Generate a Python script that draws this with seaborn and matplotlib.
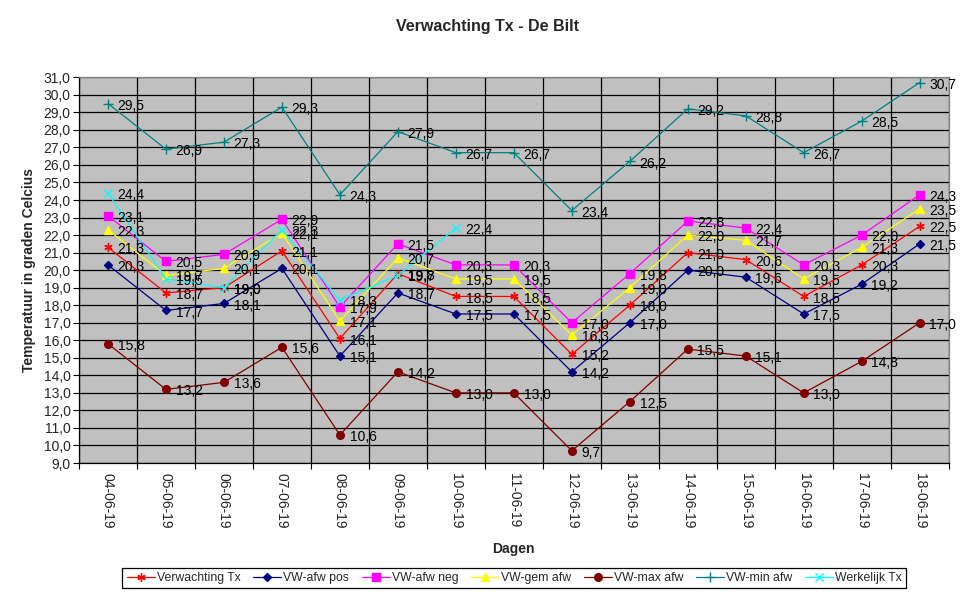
import numpy as np
import pandas as pd
import matplotlib
matplotlib.use("Agg")
import matplotlib.pyplot as plt
import seaborn as sns

DATES = ["04-06-19", "05-06-19", "06-06-19", "07-06-19", "08-06-19",
         "09-06-19", "10-06-19", "11-06-19", "12-06-19", "13-06-19",
         "14-06-19", "15-06-19", "16-06-19", "17-06-19", "18-06-19"]

VERWACHTING = [21.3, 18.7, 19.0, 21.1, 16.1, 19.8, 18.5, 18.5, 15.2, 18.0, 21.0, 20.6, 18.5, 20.3, 22.5]
AFW_POS = [20.3, 17.7, 18.1, 20.1, 15.1, 18.7, 17.5, 17.5, 14.2, 17.0, 20.0, 19.6, 17.5, 19.2, 21.5]
AFW_NEG = [23.1, 20.5, 20.9, 22.9, 17.9, 21.5, 20.3, 20.3, 17.0, 19.8, 22.8, 22.4, 20.3, 22.0, 24.3]
GEM_AFW = [22.3, 19.7, 20.1, 22.1, 17.1, 20.7, 19.5, 19.5, 16.3, 19.0, 22.0, 21.7, 19.5, 21.3, 23.5]
MAX_AFW = [15.8, 13.2, 13.6, 15.6, 10.6, 14.2, 13.0, 13.0, 9.7, 12.5, 15.5, 15.1, 13.0, 14.8, 17.0]
MIN_AFW = [29.5, 26.9, 27.3, 29.3, 24.3, 27.9, 26.7, 26.7, 23.4, 26.2, 29.2, 28.8, 26.7, 28.5, 30.7]
WERKELIJK = [24.4, 19.5, 19.0, 22.3, 18.3, 19.7, 22.4]

SERIES = [
    ("Verwachting Tx", VERWACHTING, "#FF0000", (6, 2, 0), 6),
    ("VW-afw pos", AFW_POS, "#000080", "D", 4),
    ("VW-afw neg", AFW_NEG, "#FF00FF", "s", 5.5),
    ("VW-gem afw", GEM_AFW, "#FFFF00", "^", 6),
    ("VW-max afw", MAX_AFW, "#800000", "o", 5.5),
    ("VW-min afw", MIN_AFW, "#008080", "+", 7),
    ("Werkelijk Tx", WERKELIJK, "#00FFFF", "x", 6),
]


def fmt(v):
    return f"{v:.1f}".replace(".", ",")


sns.set_style("white")
plt.rcParams["font.family"] = ["Liberation Sans", "DejaVu Sans"]

fig = plt.figure(figsize=(9.75, 5.99), dpi=100)
ax = fig.add_axes([0.081, 0.227, 0.892, 0.644])
ax.set_facecolor("#C0C0C0")

for name, values, color, marker, ms in SERIES:
    df = pd.DataFrame({"x": np.arange(len(values)), "y": values})
    sns.lineplot(data=df, x="x", y="y", ax=ax, color=color, marker=marker,
                 markersize=ms, markeredgecolor=color, markerfacecolor=color,
                 markeredgewidth=1.0, linewidth=0.9, label=name, zorder=3)
    for xi, yi in zip(df["x"], df["y"]):
        ax.annotate(fmt(yi), (xi, yi), xytext=(7, -1.5), textcoords="offset points",
                    ha="left", va="center", fontsize=10, color="black", zorder=4)

n = len(DATES)
ax.set_xlim(-0.5, n - 0.5)
ax.set_ylim(9, 31)
ax.set_yticks(np.arange(9, 32, 1))
ax.set_yticklabels([fmt(v) for v in np.arange(9, 32, 1)], fontsize=10)
ax.set_xticks(np.arange(n))
ax.set_xticklabels(DATES, rotation=-90, fontsize=10)
ax.set_xticks(np.arange(-0.5, n, 1), minor=True)
ax.tick_params(axis="x", which="major", length=0, pad=7)
ax.tick_params(axis="x", which="minor", length=4, width=0.8, direction="out", color="black", bottom=True)
ax.tick_params(axis="y", length=4, width=0.8, direction="out", color="black", left=True, pad=2)

ax.grid(False)
ax.grid(True, axis="y", which="major", color="black", linewidth=0.9)
ax.grid(True, axis="x", which="minor", color="black", linewidth=0.9)
ax.set_axisbelow(True)
for side in ["top", "right"]:
    ax.spines[side].set_color("#808080")
for side in ["left", "bottom"]:
    ax.spines[side].set_color("black")
for s in ax.spines.values():
    s.set_linewidth(0.9)
    s.set_visible(True)

ax.set_xlabel("Dagen", fontsize=10, fontweight="bold", labelpad=10)
ax.set_ylabel("Temperatuur in graden Celcius", fontsize=10, fontweight="bold", labelpad=5)
fig.text(0.5, 0.955, "Verwachting Tx - De Bilt", ha="center", va="center",
         fontsize=11.5, fontweight="bold")

leg = ax.legend(loc="center", bbox_to_anchor=(0.5275, 0.035), bbox_transform=fig.transFigure,
                ncol=7, fontsize=8.8, frameon=True, fancybox=False, framealpha=1,
                edgecolor="black", handlelength=2.3, handletextpad=0.15,
                columnspacing=1.05, borderpad=0.35)
leg.get_frame().set_linewidth(0.9)

fig.savefig("out.png", dpi=100)
